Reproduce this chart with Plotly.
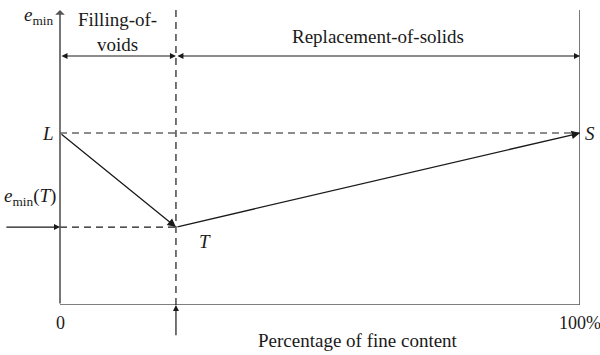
import plotly.graph_objects as go

# Schematic data (x: percentage of fine content, y: e_min in relative units)
point_labels = ["L", "T", "S"]
point_x = [0, 22.3, 100]
point_e = [58.3, 26.4, 58.3]
x_tick_vals = [0, 100]
x_tick_text = ["0", "100%"]
region_names = ["Filling-of-<br>voids", "Replacement-of-solids"]
region_arrow_y = 84.4
axis_top = 100

FONT = "Liberation Serif"
INK = "#1a1a1a"
AXC = "#555555"

fig = go.Figure()
fig.add_trace(go.Scatter(x=point_x, y=point_e, mode="markers",
                         marker=dict(size=1, opacity=0), hoverinfo="skip", showlegend=False))

xL, xT, xS = point_x
yL, yT, yS = point_e

shapes = []
shapes.append(dict(type="line", xref="x", yref="y", x0=0, x1=100, y0=0, y1=0, line=dict(color=AXC, width=1.6)))
shapes.append(dict(type="line", xref="x", yref="y", x0=100, x1=100, y0=0, y1=axis_top, line=dict(color=AXC, width=1.6)))
shapes.append(dict(type="line", xref="x", yref="y", x0=xL, x1=xS, y0=yL, y1=yS, line=dict(color=INK, width=1.2, dash="7px,5px")))
shapes.append(dict(type="line", xref="x", yref="y", x0=0, x1=xT, y0=yT, y1=yT, line=dict(color=INK, width=1.2, dash="7px,5px")))
shapes.append(dict(type="line", xref="x", yref="y", x0=xT, x1=xT, y0=0, y1=axis_top, line=dict(color=INK, width=1.2, dash="7px,5px")))

ann = []
def arrow(x, y, ax, ay, head=2, size=1.0, width=1.3, color=INK, side="end"):
    ann.append(dict(x=x, y=y, ax=ax, ay=ay, xref="x", yref="y", axref="x", ayref="y",
                    text="", showarrow=True, arrowhead=head, arrowsize=size, arrowwidth=width,
                    arrowcolor=color, standoff=0, startstandoff=0, arrowside=side,
                    startarrowhead=head, startarrowsize=size))

arrow(0, axis_top, 0, 0, head=1, size=1.0, width=1.6, color=AXC)
arrow(xT, yT, xL, yL, head=2, size=1.3, width=1.3)
arrow(xS, yS, xT, yT, head=2, size=1.3, width=1.3)
arrow(xT, region_arrow_y, 0, region_arrow_y, head=2, size=1.0, width=1.2, side="end+start")
arrow(100, region_arrow_y, xT, region_arrow_y, head=2, size=1.0, width=1.2, side="end+start")
arrow(0, yT, -10.6, yT, head=2, size=1.0, width=1.2)
arrow(xT, 0, xT, -10.8, head=2, size=1.0, width=1.2)

def txt(x, y, s, size=19, xanchor="center", yanchor="middle"):
    # positions given in data units; axes span 0..100 on both, so paper = data/100
    ann.append(dict(x=x / 100, y=y / 100, xref="paper", yref="paper", text=s, showarrow=False,
                    font=dict(family=FONT, size=size, color=INK), xanchor=xanchor, yanchor=yanchor))

txt(-1.0, 98.0, "<i>e</i><sub>min</sub>", xanchor="right")
txt(11.15, 92.5, region_names[0])
txt(61.2, 91.0, region_names[1])
txt(-2.3, yL, "<i>L</i>")
txt(102.0, yS, "<i>S</i>")
txt(-5.8, 36.6, "<i>e</i><sub>min</sub>(<i>T</i>)")
txt(27.9, 21.4, "<i>T</i>")
for v, t in zip(x_tick_vals, x_tick_text):
    txt(v, -6.1, t, size=18)
txt(57.3, -12.2, "Percentage of fine content")

fig.update_layout(
    width=600, height=355,
    margin=dict(l=60, r=20, t=10, b=50),
    paper_bgcolor="white", plot_bgcolor="white",
    xaxis=dict(range=[0, 100], visible=False, fixedrange=True),
    yaxis=dict(range=[0, 100], visible=False, fixedrange=True),
    shapes=shapes, annotations=ann, showlegend=False,
)
fig.write_html("out.html")
